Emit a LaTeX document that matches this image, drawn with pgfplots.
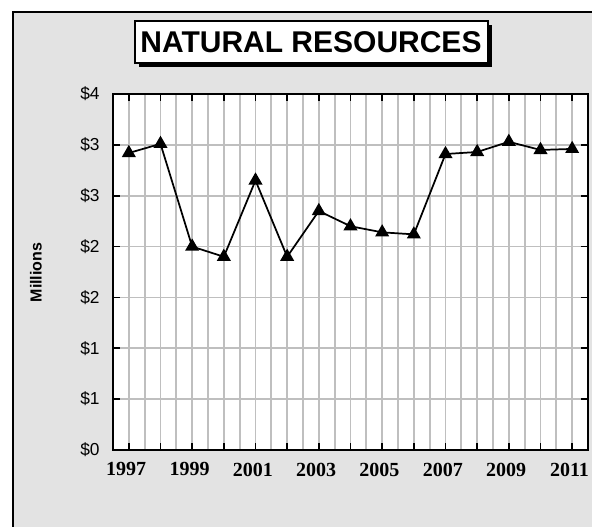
\documentclass[border=0pt]{standalone}
\usepackage{pgfplots}
\pgfplotsset{compat=1.18}
\usepackage{fontspec}
\setmainfont{Liberation Sans}
\newfontfamily\serifb{Liberation Serif}
\begin{document}
\begin{tikzpicture}
\useasboundingbox (0,0) rectangle (444pt,-395.25pt);
\clip (0,0) rectangle (444pt,-395.25pt);
\begin{scope}[x=0.75pt,y=-0.75pt]
  \fill[black!11] (13,12) rectangle (620,560);
  \draw[black,line width=1.5pt] (13,560) -- (13,12) -- (620,12);
  % title box with shadow
  \fill[black] (139,25) rectangle (492,67);
  \draw[black,line width=1.4pt,fill=white] (135,21) rectangle (488,63);
  \node[font=\bfseries\fontsize{22.5}{26}\selectfont] at (311,42.5) {NATURAL RESOURCES};
  \node[rotate=90,font=\bfseries\fontsize{12}{14}\selectfont] at (36,272.5) {Millions};
\end{scope}
\begin{axis}[
  at={(84.75pt,-337.5pt)}, anchor=south west,
  scale only axis, width=356.25pt, height=267pt,
  xmin=1996.5, xmax=2011.5, ymin=0, ymax=3.5,
  axis background/.style={fill=white},
  axis line style={black,line width=1.3pt},
  xtick={1997,1998,...,2011},
  xticklabels={1997,,1999,,2001,,2003,,2005,,2007,,2009,,2011},
  minor xtick={1996.5,1997.5,...,2011.5},
  ytick={0,0.5,...,3.5},
  yticklabels={\$0,\$1,\$1,\$2,\$2,\$3,\$3,\$4},
  grid=both,
  major grid style={black!25,line width=1.3pt},
  minor grid style={black!25,line width=1.3pt},
  tick align=inside,
  major tick length=5pt, minor tick length=0pt,
  tick style={black,line width=1.2pt},
  xticklabel style={font=\serifb\bfseries\fontsize{15}{17}\selectfont, yshift=-6pt, xshift=-2pt},
  yticklabel style={font=\fontsize{13}{15}\selectfont, xshift=-6.5pt},
  clip=false,
]
\addplot[black, line width=1.3pt, mark=triangle*, mark size=4.8pt,
  mark options={fill=black, solid}] coordinates {
  (1997,2.92) (1998,3.01) (1999,2.00) (2000,1.90) (2001,2.65)
  (2002,1.90) (2003,2.35) (2004,2.20) (2005,2.14) (2006,2.12)
  (2007,2.91) (2008,2.93) (2009,3.03) (2010,2.95) (2011,2.96)
};
\end{axis}
\end{tikzpicture}
\end{document}
